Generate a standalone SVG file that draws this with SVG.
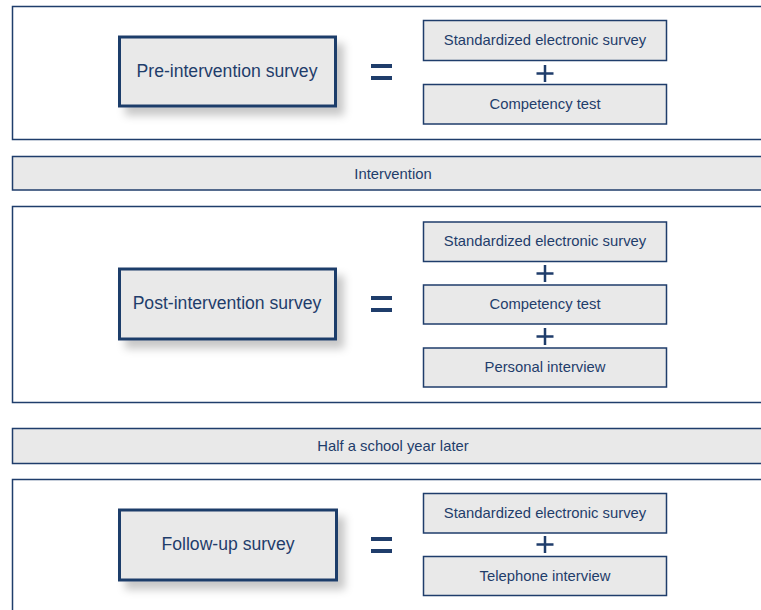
<svg xmlns="http://www.w3.org/2000/svg" width="761" height="610" viewBox="0 0 761 610">
  <defs>
    <filter id="shadow" x="-20%" y="-30%" width="150%" height="170%">
      <feDropShadow dx="7" dy="8" stdDeviation="4" flood-color="#000" flood-opacity="0.22"/>
    </filter>
    <style>
      .panel { fill: #ffffff; stroke: #1f3d6b; stroke-width: 1.5; }
      .bar { fill: #e9e9e9; stroke: #1f3d6b; stroke-width: 1.5; }
      .main { fill: #e9e9e9; stroke: #1f3d6b; stroke-width: 3; filter: url(#shadow); }
      .part { fill: #e9e9e9; stroke: #1f3d6b; stroke-width: 1.5; }
      text { font-family: "Liberation Sans", Arial, sans-serif; fill: #1f3d6b; text-anchor: middle; dominant-baseline: central; }
      .big { font-size: 17.6px; }
      .small { font-size: 14.8px; }
      .eq { stroke: #1f3d6b; stroke-width: 4; }
      .plus { stroke: #1f3d6b; stroke-width: 2.5; }
    </style>
  </defs>

  <!-- section frames and timeline bars -->
  <g id="panel-pre"><rect class="panel" x="12.5" y="6.5" width="760" height="133"/></g>
  <g id="bar-intervention">
    <rect class="bar" x="12.5" y="156.5" width="760" height="33.5"/>
    <text class="small" x="393" y="173.5">Intervention</text>
  </g>
  <g id="panel-post"><rect class="panel" x="12.5" y="206.5" width="760" height="196"/></g>
  <g id="bar-later">
    <rect class="bar" x="12.5" y="428.5" width="760" height="35"/>
    <text class="small" x="393" y="445.5">Half a school year later</text>
  </g>
  <g id="panel-follow"><rect class="panel" x="12.5" y="479.5" width="760" height="140"/></g>

  <!-- pre-intervention -->
  <g id="pre-survey">
    <rect class="main" x="119.5" y="37" width="216" height="69"/>
    <text class="big" x="227" y="70.5">Pre-intervention survey</text>
  </g>
  <g id="pre-eq"><path class="eq" d="M371 66H392M371 78H392"/></g>
  <g id="pre-electronic">
    <rect class="part" x="423.5" y="20.5" width="243" height="40"/>
    <text class="small" x="545" y="39.5">Standardized electronic survey</text>
  </g>
  <g id="pre-plus"><path class="plus" d="M545 65V82M536.5 73.5H553.5"/></g>
  <g id="pre-competency">
    <rect class="part" x="423.5" y="84.5" width="243" height="39.5"/>
    <text class="small" x="545" y="103.5">Competency test</text>
  </g>

  <!-- post-intervention -->
  <g id="post-survey">
    <rect class="main" x="119.5" y="269" width="216" height="70"/>
    <text class="big" x="227" y="302.5">Post-intervention survey</text>
  </g>
  <g id="post-eq"><path class="eq" d="M371 298H392M371 310H392"/></g>
  <g id="post-electronic">
    <rect class="part" x="423.5" y="222" width="243" height="39.5"/>
    <text class="small" x="545" y="241">Standardized electronic survey</text>
  </g>
  <g id="post-plus-1"><path class="plus" d="M545 265V282M536.5 273.5H553.5"/></g>
  <g id="post-competency">
    <rect class="part" x="423.5" y="285" width="243" height="39"/>
    <text class="small" x="545" y="304">Competency test</text>
  </g>
  <g id="post-plus-2"><path class="plus" d="M545 328V345M536.5 336.5H553.5"/></g>
  <g id="post-interview">
    <rect class="part" x="423.5" y="348" width="243" height="39"/>
    <text class="small" x="545" y="367">Personal interview</text>
  </g>

  <!-- follow-up -->
  <g id="follow-survey">
    <rect class="main" x="119.5" y="510" width="217" height="70"/>
    <text class="big" x="228" y="543.5">Follow-up survey</text>
  </g>
  <g id="follow-eq"><path class="eq" d="M371 539H392M371 551H392"/></g>
  <g id="follow-electronic">
    <rect class="part" x="423.5" y="493.5" width="243" height="39.5"/>
    <text class="small" x="545" y="512.5">Standardized electronic survey</text>
  </g>
  <g id="follow-plus"><path class="plus" d="M545 536V553M536.5 544.5H553.5"/></g>
  <g id="follow-telephone">
    <rect class="part" x="423.5" y="556.5" width="243" height="39"/>
    <text class="small" x="545" y="575.5">Telephone interview</text>
  </g>

  <!-- no connectors in this figure -->
  <g id="connectors"/>
</svg>
